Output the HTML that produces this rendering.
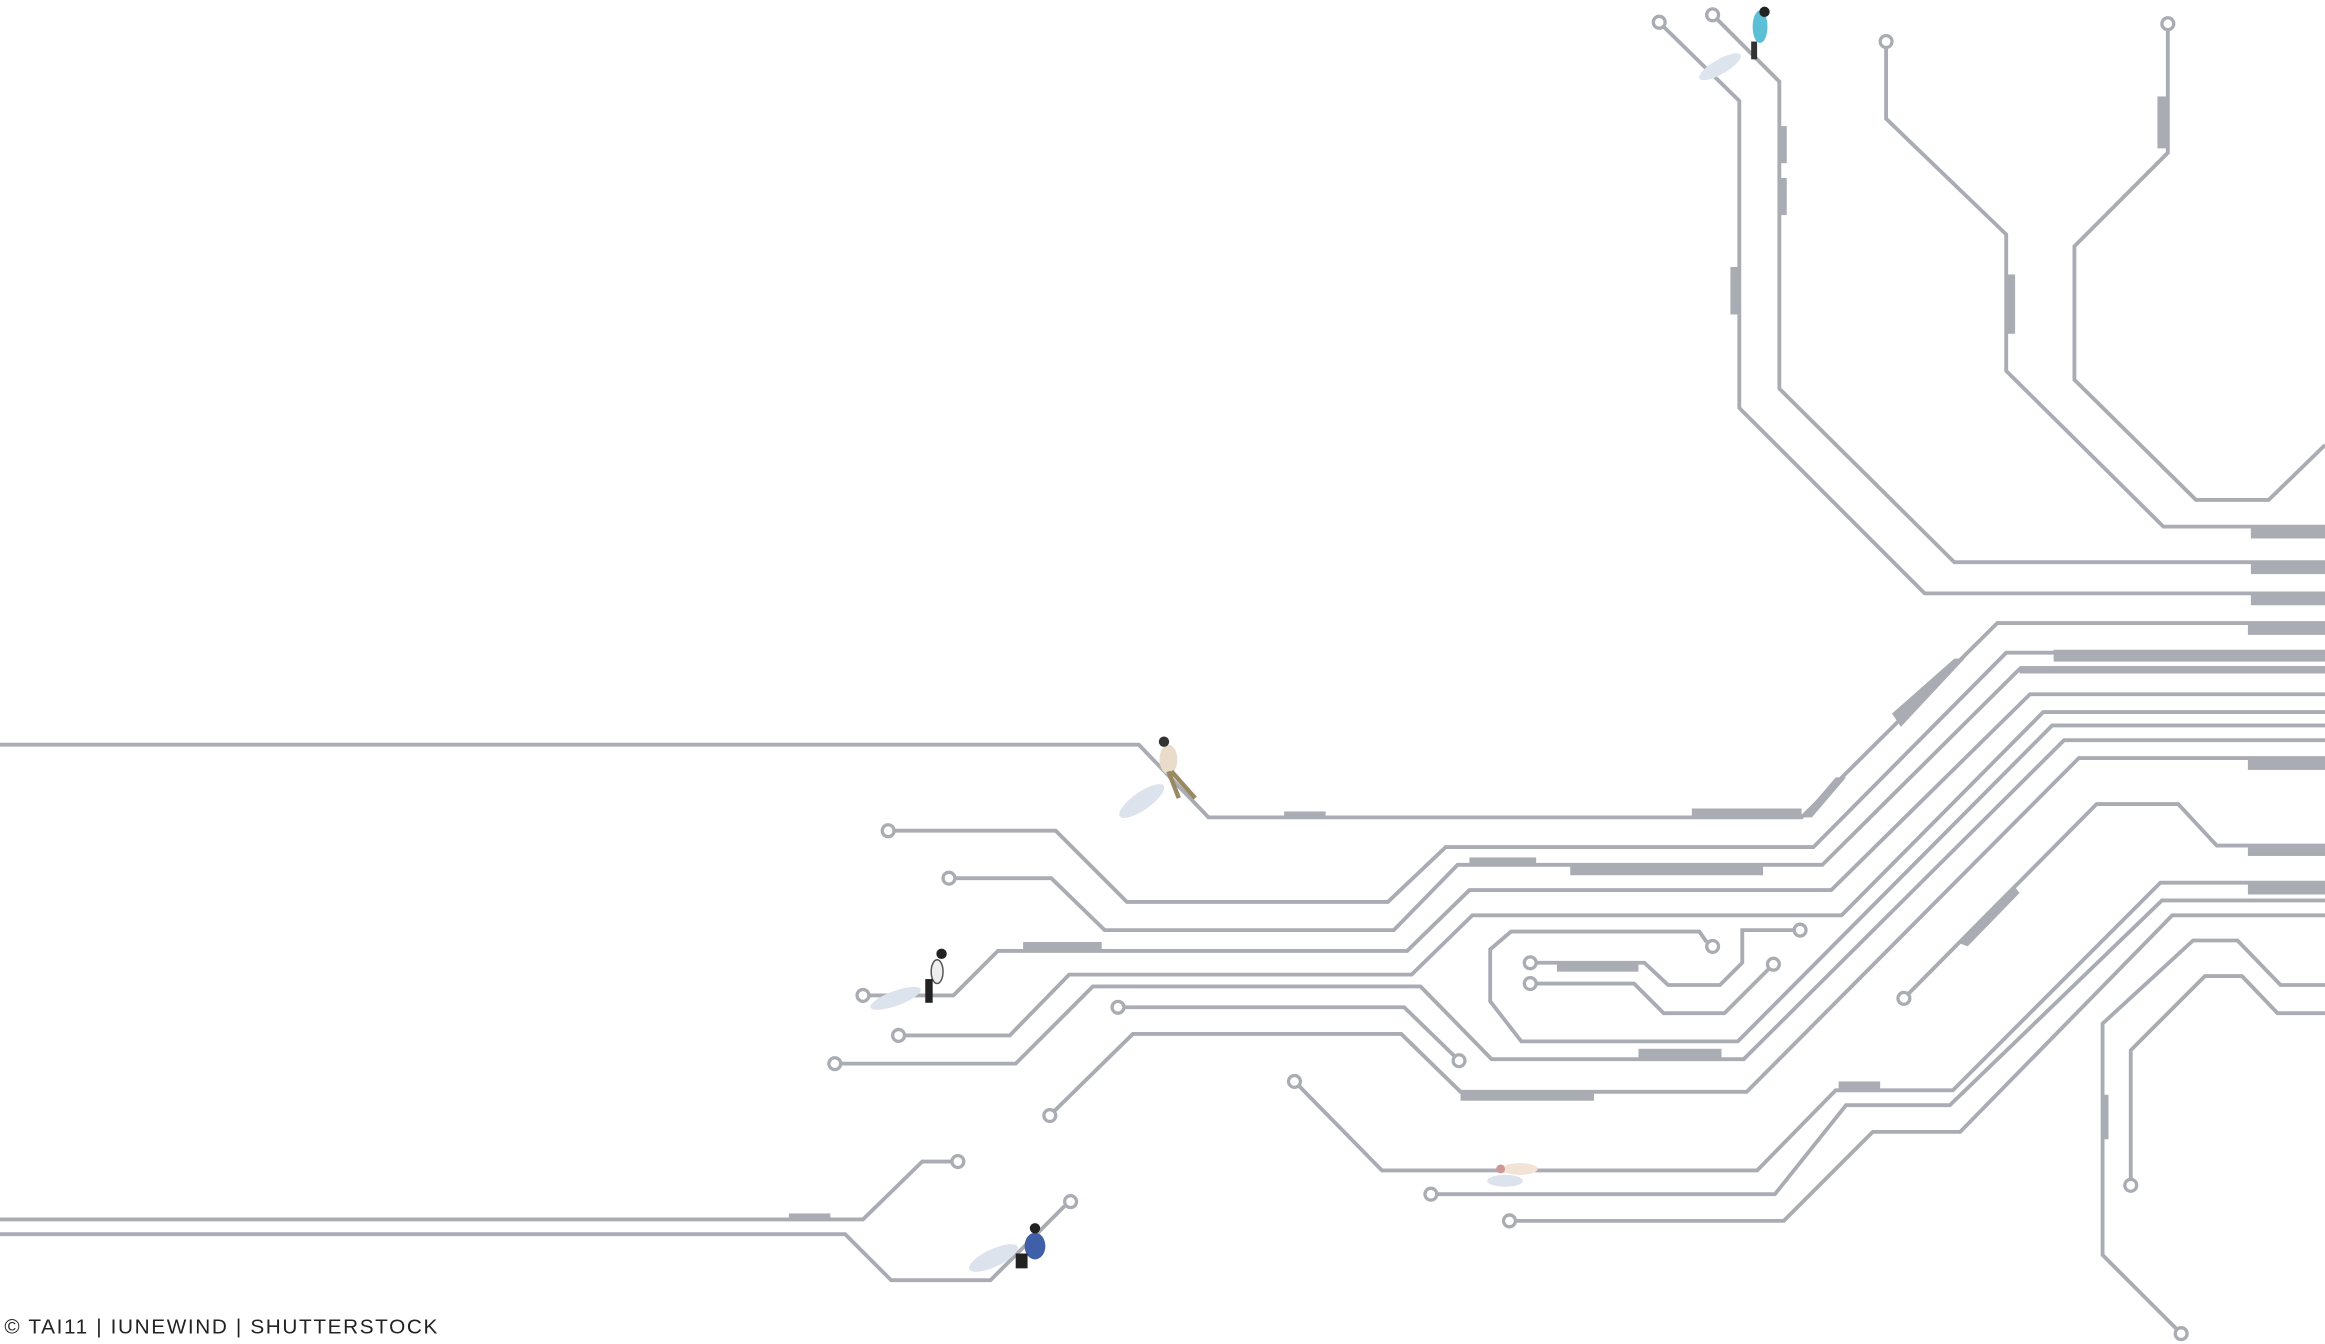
<!DOCTYPE html>
<html><head><meta charset="utf-8"><style>
html,body{margin:0;padding:0;background:#fff;}
svg{display:block;}
</style></head><body>
<svg width="2325" height="1344" viewBox="0 0 1568 906" preserveAspectRatio="none" xmlns="http://www.w3.org/2000/svg">
<rect width="1568" height="906" fill="#fff"/>
<g fill="none" stroke="#a9acb3" stroke-width="2.6" stroke-linejoin="miter">
<path d="M1122,18 L1173,68 L1173,275 L1298,400 L1568,400"/>
<path d="M1158,13 L1200,55 L1200,262 L1318,379 L1568,379"/>
<path d="M1272,32 L1272,80 L1353,158 L1353,250 L1459,355 L1568,355"/>
<path d="M1462,20 L1462,103 L1399,166 L1399,256 L1481,337 L1530,337 L1568,300"/>
<path d="M0,502 L768,502 L815,551 L1215,551 L1347,420 L1568,420"/>
<path d="M603,560 L712,560 L760,608 L936,608 L975,571 L1223,571 L1353,440 L1568,440"/>
<path d="M644,592 L709,592 L745,627 L940,627 L983,583 L1229,583 L1362,451 L1568,451"/>
<path d="M586,671 L643,671 L673,641 L949,641 L991,600 L1235,600 L1369,468 L1568,468"/>
<path d="M610,698 L681,698 L721,657 L952,657 L993,617 L1242,617 L1378,480 L1568,480"/>
<path d="M567,717 L685,717 L737,665 L958,665 L1006,714 L1176,714 L1392,499 L1568,499"/>
<path d="M757,679 L947,679 L981,712"/>
<path d="M711,749 L764,697 L945,697 L985,736 L1178,736 L1402,511 L1568,511"/>
<path d="M1151,635 L1146,628 L1019,628 L1005,640 L1005,675 L1026,702 L1172,702 L1384,489 L1568,489"/>
<path d="M1036,649 L1109,649 L1125,664 L1160,664 L1175,649 L1175,627 L1210,627"/>
<path d="M1036,663 L1102,663 L1122,683 L1163,683 L1193,653"/>
<path d="M1287,670 L1414,542 L1469,542 L1495,570 L1568,570"/>
<path d="M876,732 L932,789 L1185,789 L1238,735 L1317,735 L1457,595 L1568,595"/>
<path d="M969,805 L1197,805 L1245,745 L1315,745 L1458,607 L1568,607"/>
<path d="M1022,823 L1203,823 L1263,763 L1322,763 L1465,617 L1568,617"/>
<path d="M1437,795 L1437,708 L1487,658 L1512,658 L1536,683 L1568,683"/>
<path d="M1468,896 L1418,846 L1418,690 L1479,634 L1509,634 L1538,664 L1568,664"/>
<path d="M0,822 L582,822 L622,783 L642,783"/>
<path d="M0,832 L570,832 L601,863 L668,863 L718,813"/>
</g>
<g fill="#fff" stroke="#a9acb3" stroke-width="2.2">
<circle cx="1119" cy="15" r="4"/><circle cx="1155" cy="10" r="4"/><circle cx="1272" cy="28" r="4"/><circle cx="1462" cy="16" r="4"/>
<circle cx="599" cy="560" r="4"/><circle cx="640" cy="592" r="4"/><circle cx="582" cy="671" r="4"/><circle cx="606" cy="698" r="4"/><circle cx="563" cy="717" r="4"/>
<circle cx="754" cy="679" r="4"/><circle cx="984" cy="715" r="4"/><circle cx="708" cy="752" r="4"/>
<circle cx="1032" cy="649" r="4"/><circle cx="1032" cy="663" r="4"/><circle cx="1155" cy="638" r="4"/><circle cx="1214" cy="627" r="4"/><circle cx="1196" cy="650" r="4"/>
<circle cx="1284" cy="673" r="4"/><circle cx="873" cy="729" r="4"/><circle cx="965" cy="805" r="4"/><circle cx="1018" cy="823" r="4"/>
<circle cx="1437" cy="799" r="4"/><circle cx="1471" cy="899" r="4"/><circle cx="646" cy="783" r="4"/><circle cx="722" cy="810" r="4"/>
</g>
<g fill="#a9acb3">
<rect x="1518" y="355" width="50" height="8"/><rect x="1518" y="379" width="50" height="8"/><rect x="1518" y="400" width="50" height="8"/><rect x="1516" y="420" width="52" height="8"/>
<rect x="1385" y="438" width="183" height="8"/><rect x="1362" y="449" width="206" height="5"/><rect x="1516" y="511" width="52" height="8"/><rect x="1516" y="569" width="52" height="8"/><rect x="1516" y="595" width="52" height="8"/>
<rect x="1167" y="180" width="6" height="32"/><rect x="1200" y="85" width="5" height="25"/><rect x="1200" y="120" width="5" height="25"/>
<rect x="1353" y="185" width="6" height="40"/><rect x="1455" y="65" width="7" height="35"/>
<rect x="1141" y="545" width="74" height="7"/><rect x="866" y="547" width="28" height="5"/>
<rect x="1059" y="583" width="130" height="7"/><rect x="991" y="578" width="45" height="5"/>
<rect x="690" y="635" width="53" height="6"/><rect x="1050" y="649" width="55" height="6"/>
<rect x="1105" y="707" width="56" height="7"/><rect x="985" y="735" width="90" height="7"/>
<rect x="1240" y="729" width="28" height="5"/><rect x="532" y="818" width="28" height="5"/>
<rect x="1417" y="738" width="5" height="30"/>
<polygon points="1276,481 1318,444 1325,444 1282,490"/>
<polygon points="1215,551 1238,524 1245,524 1222,551"/>
<polygon points="1322,636 1359,598 1362,602 1327,638"/>
</g>
<g>
<ellipse cx="1160" cy="45" rx="16" ry="5" fill="#dde4ee" transform="rotate(-30 1160 45)"/>
<ellipse cx="1187" cy="18" rx="5" ry="11" fill="#5bbfd6"/><circle cx="1190" cy="8" r="3.5" fill="#222"/><rect x="1181" y="28" width="4" height="12" fill="#333"/>
<ellipse cx="770" cy="540" rx="18" ry="6" fill="#dde3ec" transform="rotate(-35 770 540)"/>
<ellipse cx="788" cy="512" rx="6" ry="10" fill="#e9dccb"/><circle cx="785" cy="500" r="3.5" fill="#333"/><path d="M788,520 L795,538 M790,520 L806,538" stroke="#9a8a64" stroke-width="3"/>
<ellipse cx="604" cy="673" rx="18" ry="5" fill="#dde3ec" transform="rotate(-20 604 673)"/>
<ellipse cx="632" cy="655" rx="4" ry="8" fill="#eee" stroke="#555" stroke-width="1"/><circle cx="635" cy="643" r="3.5" fill="#222"/><rect x="624" y="660" width="5" height="16" fill="#222"/>
<ellipse cx="1015" cy="796" rx="12" ry="4" fill="#dde3ec"/>
<ellipse cx="1025" cy="788" rx="12" ry="4" fill="#f3e3d6"/><circle cx="1012" cy="788" r="3" fill="#c99"/>
<ellipse cx="670" cy="848" rx="18" ry="6" fill="#dde3ec" transform="rotate(-25 670 848)"/>
<ellipse cx="698" cy="840" rx="7" ry="9" fill="#3f5fa8"/><circle cx="698" cy="828" r="3.5" fill="#222"/><rect x="685" y="845" width="8" height="10" fill="#222"/>
</g>
<text x="3" y="899" font-family="Liberation Sans, sans-serif" font-size="14" letter-spacing="1.1" fill="#222">© TAI11 | IUNEWIND | SHUTTERSTOCK</text>
</svg>
</body></html>
